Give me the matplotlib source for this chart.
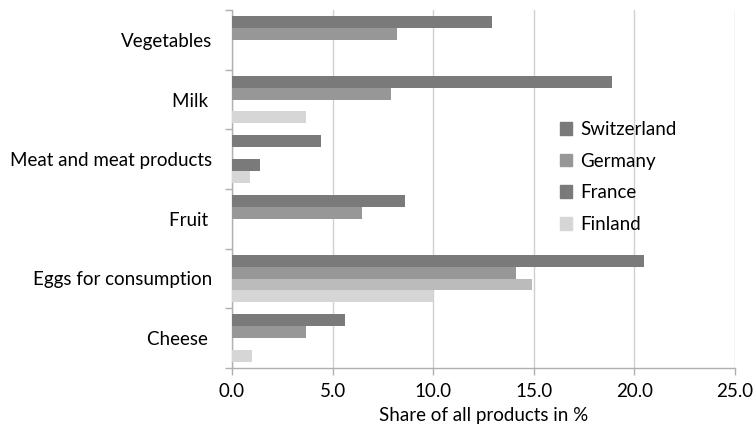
import matplotlib
matplotlib.use("Agg")
import matplotlib.pyplot as plt
import numpy as np
from matplotlib.patches import Patch

categories = ["Vegetables", "Milk ", "Meat and meat products", "Fruit ", "Eggs for consumption", "Cheese "]
switzerland = [12.9, 18.9, 4.4, 8.6, 20.5, 5.6]
germany = [8.2, 7.9, 0.0, 6.45, 14.1, 3.7]
france = [0.0, 0.0, 1.4, 0.0, 14.9, 0.0]
finland = [0.0, 3.7, 0.9, 0.0, 10.0, 1.0]
series_names = ["Switzerland", "Germany", "France", "Finland"]
xticks = [0, 5, 10, 15, 20, 25]

plt.rcParams['font.family'] = ['Lato', 'DejaVu Sans']
FS = 13.5

fig = plt.figure(figsize=(7.54, 4.34), dpi=100)
ax = fig.add_axes([232/754, 1-368/434, (735-232)/754, (368-10)/434])

colors = ["#7a7a7a", "#979797", "#7a7a7a", "#d6d6d6"]
france_colors = ["#7a7a7a", "#7a7a7a", "#7a7a7a", "#7a7a7a", "#bbbbbb", "#7a7a7a"]
y = np.arange(len(categories))
h = 0.2
offsets = [-0.3, -0.1, 0.1, 0.3]
data = [switzerland, germany, france, finland]
for i, (name, vals) in enumerate(zip(series_names, data)):
    c = france_colors if name == "France" else colors[i]
    ax.barh(y + offsets[i], vals, height=h, color=c, label=name, zorder=3,
            edgecolor="none")

ax.set_ylim(len(categories) - 0.5, -0.5)
ax.set_xlim(0, 25)
ax.set_xticks(xticks)
ax.set_xticklabels([f"{v:.1f}" for v in xticks], fontsize=FS)
ax.set_yticks(y)
ax.set_yticklabels(categories, fontsize=FS)
ax.set_yticks(np.arange(len(categories) + 1) - 0.5, minor=True)
ax.tick_params(axis='y', which='major', length=0, pad=14)
ax.tick_params(axis='y', which='minor', length=5, color="#b0b0b0", width=1)
ax.tick_params(axis='x', which='major', length=5, color="#b0b0b0", width=1, pad=6)
ax.grid(axis='x', color="#d0d0d0", linewidth=1, zorder=0)
for s in ["top", "right"]:
    ax.spines[s].set_visible(False)
for s in ["left", "bottom"]:
    ax.spines[s].set_color("#b0b0b0")
    ax.spines[s].set_linewidth(1)
ax.set_xlabel("Share of all products in %", fontsize=FS, labelpad=5)

leg_handles = [Patch(color=colors[i]) for i in range(4)]
ax.legend(leg_handles, series_names, loc="upper left", bbox_to_anchor=(0.618, 0.737),
          frameon=False, fontsize=FS, handlelength=0.65, handleheight=0.65,
          labelspacing=0.78, handletextpad=0.45)

fig.savefig("out.png", dpi=100)
